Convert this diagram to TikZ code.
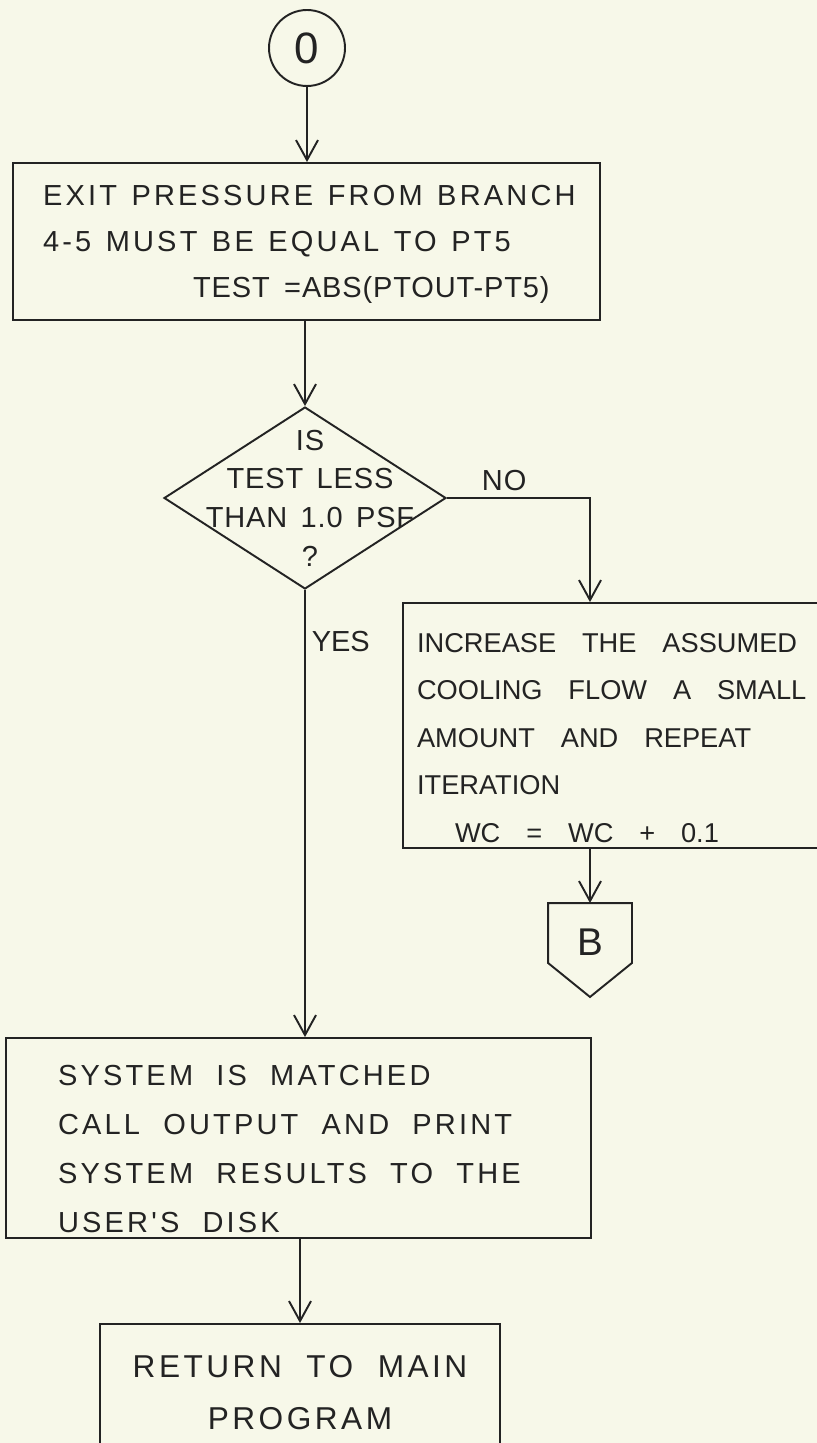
\documentclass[tikz,border=0pt]{standalone}
\usepackage{fontspec}
\newfontfamily\hand[LetterSpace=11,WordSpace=2]{Liberation Sans}
\newfontfamily\handtight[LetterSpace=3,WordSpace=1.5]{Liberation Sans}
\newfontfamily\handnarrow{Liberation Sans}
\usetikzlibrary{arrows.meta, shapes.geometric}
\definecolor{paper}{RGB}{247,248,233}
\definecolor{ink}{RGB}{35,35,35}

\begin{document}
\begin{tikzpicture}[
x=0.02cm, y=-0.02cm,
color=ink, line width=1.1pt,
box/.style={draw, rectangle, align=left, inner ysep=0pt, font=\hand\fontsize{16.5}{26}\selectfont},
wordgap/.style={execute at begin node={\spaceskip=#1\relax}},
decision/.style={draw, diamond, minimum width=5.64cm, minimum height=3.64cm, inner sep=0pt},
dtext/.style={align=center, xshift=0.1cm, font=\handtight\fontsize{16.5}{22}\selectfont},
arrow/.style={-{Straight Barb[length=4mm, width=4.4mm]}}
]
\path[use as bounding box, fill=paper] (0,0) rectangle (817,1443);

\node[draw, circle, minimum size=1.52cm, inner sep=0pt, font=\handnarrow\fontsize{25}{25}\selectfont] (start) at (307,48) {0};

\node[box, wordgap=0.5em, text width=10.54cm, inner xsep=0.6cm, minimum height=3.14cm] (exitbox) at (306.5,241.5)
{\rule{0pt}{15pt}\mbox{EXIT PRESSURE FROM BRANCH}\\
4-5 MUST BE EQUAL TO PT5\\
\hspace*{3cm}\mbox{\handtight TEST =ABS(PTOUT-PT5)}};

\node[decision, label={[dtext]center:{IS\\TEST LESS\\THAN 1.0 PSF\\?}}] (test) at (305,498) {};

\node[box, wordgap=0.95em, font=\handnarrow\fontsize{15.5}{27}\selectfont, text width=8.78cm, inner xsep=0.28cm, minimum height=4.9cm] (incrbox) at (636.5,725.5)
{\rule{0pt}{25pt}INCREASE THE ASSUMED\\
\mbox{COOLING FLOW A SMALL}\\
AMOUNT AND REPEAT\\
ITERATION\\
\hspace*{0.76cm}WC = WC + 0.1};

\node[inner sep=0pt, minimum width=1.64cm, minimum height=1.16cm, text height=26pt, text depth=0pt, font=\handnarrow\fontsize{22}{22}\selectfont] (bconn) at (590,933) {B};
\draw (bconn.north west) -- (bconn.north east) -- (bconn.south east) -- ([yshift=-0.68cm]bconn.south) -- (bconn.south west) -- cycle;

\node[box, wordgap=0.8em, text width=9.62cm, inner xsep=1.04cm, minimum height=4cm] (matchbox) at (298.5,1138)
{\rule{0pt}{24pt}SYSTEM IS MATCHED\\[2pt]
CALL OUTPUT AND PRINT\\[2pt]
SYSTEM RESULTS TO THE\\[2pt]
USER'S DISK};

\node[box, align=center, font=\hand\fontsize{18}{29.5}\selectfont, minimum width=8cm, minimum height=2.76cm] (returnbox) at (300,1393)
{RETURN TO MAIN\\
PROGRAM};

\draw[arrow] (start.south) -- (start.south |- exitbox.north);
\draw[arrow] (exitbox.south -| test.north) -- (test.north);
\draw[arrow] (test.east) -| node[above, pos=0.2, font=\handtight\fontsize{16.5}{20}\selectfont] {NO} (incrbox.north -| bconn.north);
\draw[arrow] (incrbox.south -| bconn.north) -- (bconn.north);
\draw[arrow] (test.south) -- node[right, pos=0.115, font=\handnarrow\fontsize{16.5}{20}\selectfont] {YES} (test.south |- matchbox.north);
\draw[arrow] (matchbox.south -| returnbox.north) -- (returnbox.north);

\end{tikzpicture}
\end{document}
